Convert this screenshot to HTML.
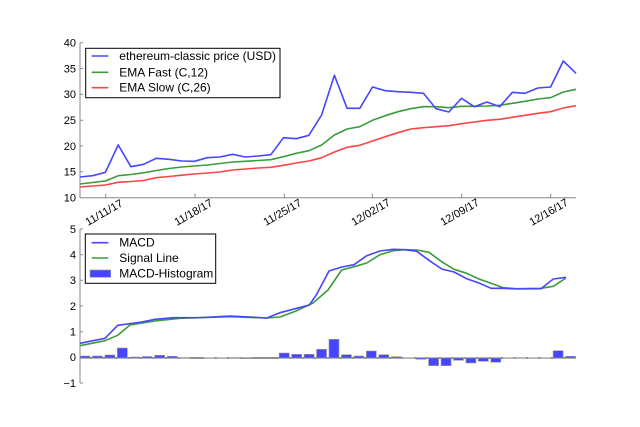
<!DOCTYPE html>
<html><head><meta charset="utf-8"><style>
html,body{margin:0;padding:0;background:#fff;}
svg{display:block;font-family:"Liberation Sans",sans-serif;}
</style></head><body>
<svg width="640" height="427" viewBox="0 0 640 427" xmlns="http://www.w3.org/2000/svg">
<g font-size="11" fill="#000" text-anchor="end">
<text x="76" y="46.5">40</text><text x="76" y="72.3">35</text><text x="76" y="98.2">30</text>
<text x="76" y="124">25</text><text x="76" y="149.8">20</text><text x="76" y="175.7">15</text><text x="76" y="201.5">10</text>
<text x="76" y="232.8">5</text><text x="76" y="258.5">4</text><text x="76" y="284.2">3</text><text x="76" y="309.8">2</text>
<text x="76" y="335.5">1</text><text x="76" y="361.2">0</text><text x="76" y="386.8">−1</text>
</g>
<g stroke="#888" stroke-width="1" fill="none">
<line x1="80" y1="42.7" x2="80" y2="197.7"/><line x1="80" y1="197.7" x2="576" y2="197.7"/>
<line x1="80" y1="229" x2="80" y2="383"/>
<path d="M80 68.5h3M80 94.3h3M80 120.2h3M80 146h3M80 171.8h3M80 42.7h3"/>
<path d="M80 254.7h3M80 280.3h3M80 306h3M80 331.7h3M80 357.3h3M80 229h3M80 383h3"/>
<path d="M105.7 197.7v-4M195 197.7v-4M284.3 197.7v-4M372.3 197.7v-4M461.7 197.7v-4M550.7 197.7v-4"/>
</g>
<g font-size="11" fill="#000">
<text transform="translate(88,226) rotate(-30)">11/11/17</text>
<text transform="translate(177,226) rotate(-30)">11/18/17</text>
<text transform="translate(266,226) rotate(-30)">11/25/17</text>
<text transform="translate(354,226) rotate(-30)">12/02/17</text>
<text transform="translate(443,226) rotate(-30)">12/09/17</text>
<text transform="translate(532,226) rotate(-30)">12/16/17</text>
</g>
<g fill="none" stroke-width="1.6" stroke-linejoin="round">
<polyline stroke="#ff4444" points="80,187 92.7,186 105.4,185 118.2,182.3 130.9,181.5 143.6,180.5 156.3,177.7 169,176.5 181.7,175.2 194.5,174 207.2,173 219.9,172 232.6,170 245.3,169 258.1,168 270.8,167.3 283.5,165.3 296.2,163 308.9,161 321.6,157.7 334.4,152 347.1,147.3 359.8,145.3 372.5,141 385.2,136.7 398,132.7 410.7,129 423.4,127.7 436.1,126.7 448.8,125.7 461.5,123.7 474.3,122 487,120.3 499.7,119.3 512.4,117.3 525.1,115.3 537.8,113.3 550.6,111.7 563.3,108 576,105.7"/>
<polyline stroke="#3c9c3c" points="80,184 92.7,182.5 105.4,181 118.2,175.7 130.9,174.5 143.6,172.8 156.3,170.5 169,168.5 181.7,167 194.5,166 207.2,165 219.9,163.5 232.6,162 245.3,161.3 258.1,160.5 270.8,159.7 283.5,156.7 296.2,153.3 308.9,150.7 321.6,145 334.4,135 347.1,129 359.8,126.7 372.5,120.3 385.2,115.7 398,111.7 410.7,108.7 423.4,106.7 436.1,106.7 448.8,107.7 461.5,106.3 474.3,106.3 487,106 499.7,105.3 512.4,103.3 525.1,101.3 537.8,99 550.6,97.7 563.3,92 576,89.3"/>
<polyline stroke="#4646ff" points="80,177 92.7,175.7 105.4,172.3 118.2,145 130.9,166.7 143.6,164.3 156.3,158.3 169,159.3 181.7,161 194.5,161.3 207.2,157.7 219.9,157 232.6,154.3 245.3,157 258.1,156 270.8,154.7 283.5,137.7 296.2,138.7 308.9,135.3 321.6,115 334.4,75.3 347.1,108.3 359.8,108.3 372.5,87 385.2,90.7 398,91.7 410.7,92.3 423.4,93.3 436.1,108.7 448.8,112 461.5,98.3 474.3,106.7 487,102 499.7,106.7 512.4,92.3 525.1,93.3 537.8,88 550.6,87 563.3,61 576,73.3"/>
</g>
<rect x="85.7" y="48.3" width="194.3" height="49.4" fill="#fff" stroke="#000" stroke-width="1"/>
<line x1="91.7" y1="56" x2="108.3" y2="56" stroke="#4646ff" stroke-width="1.6"/>
<line x1="91.7" y1="72.3" x2="108.3" y2="72.3" stroke="#3c9c3c" stroke-width="1.6"/>
<line x1="91.7" y1="87.7" x2="108.3" y2="87.7" stroke="#ff4444" stroke-width="1.6"/>
<g font-size="12"><text x="119.3" y="60">ethereum-classic price (USD)</text><text x="119.3" y="76.3">EMA Fast (C,12)</text><text x="119.3" y="91.7">EMA Slow (C,26)</text></g>
<line x1="80" y1="358" x2="576" y2="358" stroke="#222" stroke-width="1"/>
<g fill="#4646ff" stroke="#999" stroke-width="0.6">
<rect x="80" y="356" width="10" height="2"/><rect x="92.45" y="356" width="10" height="2"/><rect x="104.9" y="355" width="10" height="3"/><rect x="117.35" y="348" width="10" height="10"/><rect x="129.8" y="357" width="10" height="1"/><rect x="142.25" y="356.5" width="10" height="1.5"/><rect x="154.7" y="355.3" width="10" height="2.7"/><rect x="167.15" y="356.3" width="10" height="1.7"/><rect x="179.6" y="357.5" width="10" height="0.5"/><rect x="204.5" y="357.7" width="10" height="0.3"/><rect x="216.95" y="357.7" width="10" height="0.3"/><rect x="229.4" y="357.5" width="10" height="0.5"/><rect x="241.85" y="358" width="10" height="0.7"/><rect x="279.2" y="353" width="10" height="5"/><rect x="291.65" y="354.3" width="10" height="3.7"/><rect x="304.1" y="354.3" width="10" height="3.7"/><rect x="316.55" y="349.3" width="10" height="8.7"/><rect x="329" y="339.3" width="10" height="18.7"/><rect x="341.45" y="354.7" width="10" height="3.3"/><rect x="353.9" y="356" width="10" height="2"/><rect x="366.35" y="351" width="10" height="7"/><rect x="378.8" y="354.7" width="10" height="3.3"/><rect x="391.25" y="356.7" width="10" height="1.3"/><rect x="403.7" y="357.7" width="10" height="0.3"/><rect x="416.15" y="358" width="10" height="1.3"/><rect x="428.6" y="358" width="10" height="7.7"/><rect x="441.05" y="358" width="10" height="7.7"/><rect x="453.5" y="358" width="10" height="2.3"/><rect x="465.95" y="358" width="10" height="5"/><rect x="478.4" y="358" width="10" height="3.3"/><rect x="490.85" y="358" width="10" height="4.3"/><rect x="503.3" y="357.7" width="10" height="0.3"/><rect x="515.75" y="358" width="10" height="0.3"/><rect x="528.2" y="357.7" width="10" height="0.3"/><rect x="540.65" y="357.7" width="10" height="0.3"/><rect x="553.1" y="350.7" width="10" height="7.3"/><rect x="565.55" y="356.3" width="10" height="1.7"/>
</g>
<g fill="none" stroke-width="1.6" stroke-linejoin="round">
<polyline stroke="#3c9c3c" points="80,345.7 105,340.7 117.7,335.3 130,325 155,321 180,318.3 230,316.7 266.7,318 280,317 296.7,310.7 313,303 328,290 341.7,270 354,266.7 366.7,263 380,254.7 393.3,250.7 405,249.7 416.7,250 429,252.3 441.7,261.7 454,269.3 466.7,273.3 479,279 491,283.3 503.3,287.7 516.7,288.7 541,288.3 553.3,286.3 566,278"/>
<polyline stroke="#4646ff" points="80,343.3 105,338.3 117.7,325.3 141.7,322 155,319.3 173,317.7 200,317.7 230,316 266.7,318 280,312.7 296.7,308.3 309.3,305 316.7,294.3 329,271 341.7,267 354,264.7 366.7,255.7 380,251 393.3,249.3 405,249.7 416.7,251.3 429,260.3 441.7,269 454,272 466.7,278.7 479,283 491,288.3 503.3,288.3 516.7,289 541,288.7 553.3,279 566,277.3"/>
</g>
<rect x="85.3" y="234" width="130.4" height="49.3" fill="#fff" stroke="#000" stroke-width="1"/>
<line x1="91.7" y1="242.7" x2="108.3" y2="242.7" stroke="#4646ff" stroke-width="1.6"/>
<line x1="91.7" y1="258" x2="108.3" y2="258" stroke="#3c9c3c" stroke-width="1.6"/>
<rect x="90" y="270" width="20.7" height="7.3" fill="#4646ff" stroke="#999" stroke-width="0.6"/>
<g font-size="12"><text x="119.3" y="246.7">MACD</text><text x="119.3" y="262">Signal Line</text><text x="119.3" y="277.3">MACD-Histogram</text></g>
</svg>
</body></html>
